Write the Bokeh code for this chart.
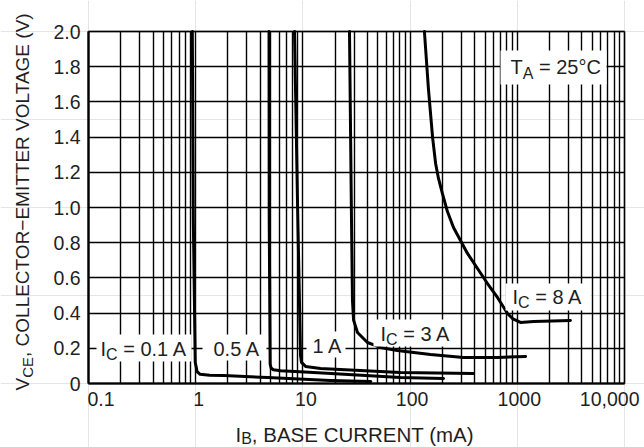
import math
from bokeh.plotting import figure
from bokeh.models import (Label, BoxAnnotation, FixedTicker, Range1d, Grid,
                          LinearAxis, LogAxis)
from bokeh.embed import file_html
from bokeh.resources import INLINE

# ---------------- data ----------------
x_ticks = [0.1, 1, 10, 100, 1000, 10000]
x_tick_labels = ["0.1", "1", "10", "100", "1000", "10,000"]
y_ticks = [0, 0.2, 0.4, 0.6, 0.8, 1.0, 1.2, 1.4, 1.6, 1.8, 2.0]
y_tick_labels = ["0", "0.2", "0.4", "0.6", "0.8", "1.0", "1.2", "1.4", "1.6", "1.8", "2.0"]

# I_B (mA) and V_CE (V) for each collector current
ib_01 = [0.93, 0.95, 0.99, 1.03, 1.10, 1.35, 1.82, 4.7, 18.0, 43.0]
vce_01 = [2.0, 0.93, 0.12, 0.068, 0.052, 0.047, 0.045, 0.034, 0.017, 0.011]

ib_05 = [4.83, 4.85, 4.95, 5.05, 5.3, 6.2, 12.6, 81, 205]
vce_05 = [2.0, 0.93, 0.11, 0.088, 0.078, 0.072, 0.062, 0.034, 0.028]

ib_1 = [8.35, 8.9, 9.5, 9.7, 10.6, 14.6, 81, 390]
vce_1 = [2.0, 1.04, 0.16, 0.12, 0.097, 0.085, 0.0625, 0.057]

ib_3 = [27.2, 28.4, 29.0, 29.7, 32.3, 40, 53, 76, 155, 315, 653, 1195]
vce_3 = [2.0, 0.93, 0.47, 0.36, 0.29, 0.233, 0.205, 0.188, 0.165, 0.148, 0.148, 0.153]

ib_8 = [136, 148, 162, 173, 184, 200, 223, 254, 343, 527, 653, 811, 902, 1070, 1420, 3130]
vce_8 = [2.0, 1.68, 1.40, 1.25, 1.165, 1.08, 0.977, 0.886, 0.739, 0.568, 0.489, 0.398,
         0.369, 0.347, 0.352, 0.358]

curves = [(ib_01, vce_01), (ib_05, vce_05), (ib_1, vce_1), (ib_3, vce_3), (ib_8, vce_8)]

# ---------------- layout / style ----------------
W, H = 644, 447
FL, FT, FW, FH = 88, 31, 536, 352          # chart box left/top/width/height (page px)
FONT = "Liberation Sans"
INK = "#1f1f1f"
X0, X1 = x_ticks[0], x_ticks[-1]
Y0, Y1 = y_ticks[0], y_ticks[-1]
BASE_FIX = 0.33                             # alphabetic-baseline correction (em)

# the plotting frame covers the whole canvas; ranges are widened so that the
# chart box (X0..X1, Y0..Y1) lands at FL..FL+FW, FT..FT+FH
dec_per_px = (math.log10(X1) - math.log10(X0)) / FW
v_per_px = (Y1 - Y0) / FH
x_range = Range1d(10 ** (math.log10(X0) - FL * dec_per_px),
                  10 ** (math.log10(X1) + (W - FL - FW) * dec_per_px))
y_range = Range1d(Y0 - (H - FT - FH) * v_per_px, Y1 + FT * v_per_px)


def sx(px):
    return px


def sy(py):
    return H - py


AW = {" ": 278, "(": 333, ")": 333, ",": 278, ".": 278, "=": 584, "°": 400, "−": 584,
      "A": 667, "B": 667, "C": 722, "E": 667, "G": 778, "I": 278, "L": 556, "M": 833,
      "N": 722, "O": 778, "R": 722, "S": 667, "T": 611, "U": 722, "V": 667, "m": 833}
for d in "0123456789":
    AW[d] = 556


def tw(s, size):
    return sum(AW.get(c, 556) for c in s) * size / 1000.0


p = figure(width=W, height=H, x_axis_type="log", x_range=x_range, y_range=y_range,
           x_axis_location=None, y_axis_location=None,
           output_backend="svg", toolbar_location=None, min_border=0)
p.background_fill_color = "white"
p.border_fill_color = "white"
p.outline_line_color = None

minor = [m * 10.0 ** k for k in range(-1, 4) for m in range(2, 10)]
xticker = FixedTicker(ticks=x_ticks, minor_ticks=minor)
yticker = FixedTicker(ticks=y_ticks)

# axes, placed on the chart box edges
xaxis = LogAxis(fixed_location=Y0, bounds=(X0, X1), ticker=xticker,
                major_label_overrides={t: "" for t in x_ticks})
yaxis = LinearAxis(fixed_location=X0, bounds=(Y0, Y1), ticker=yticker,
                   major_label_overrides=dict(zip(y_ticks, y_tick_labels)))
for ax in (xaxis, yaxis):
    ax.major_tick_out = 0
    ax.major_tick_in = 0
    ax.minor_tick_out = 0
    ax.minor_tick_in = 0
    ax.axis_line_width = 2.2
    ax.axis_line_color = "black"
    ax.major_label_text_font = FONT
    ax.major_label_text_font_size = "19.5px"
    ax.major_label_text_color = INK
yaxis.major_label_standoff = 8
p.add_layout(xaxis, "below")
p.add_layout(yaxis, "left")

GRID_W = 1.4
has_cross = "cross_bounds" in Grid.properties()
if has_cross:
    xg = Grid(dimension=0, ticker=xticker, bounds=(X0, X1), cross_bounds=(Y0, Y1),
              grid_line_color="black", grid_line_width=GRID_W,
              minor_grid_line_color="black", minor_grid_line_width=GRID_W)
    yg = Grid(dimension=1, ticker=yticker, bounds=(Y0, Y1), cross_bounds=(X0, X1),
              grid_line_color="black", grid_line_width=GRID_W)
    p.add_layout(xg, "center")
    p.add_layout(yg, "center")
else:
    vx = x_ticks + minor
    p.segment(x0=vx, y0=[Y0] * len(vx), x1=vx, y1=[Y1] * len(vx),
              line_color="black", line_width=GRID_W, level="underlay")
    p.segment(x0=[X0] * len(y_ticks), y0=y_ticks, x1=[X1] * len(y_ticks), y1=y_ticks,
              line_color="black", line_width=GRID_W, level="underlay")

# chart box border
p.add_layout(BoxAnnotation(left=X0, right=X1, bottom=Y0, top=Y1, fill_alpha=0,
                           fill_color=None, line_color="black", line_width=2,
                           level="underlay"))

# white boxes behind in-plot labels (page px: left, right, top, bottom)
boxes = [(500, 606, 50, 84), (505, 590, 283, 310), (373, 455, 319, 346),
         (306, 345, 331, 357), (202, 266, 334, 360), (96, 191, 334, 361)]
for l, r, t, b in boxes:
    p.add_layout(BoxAnnotation(left=sx(l), right=sx(r), top=sy(t), bottom=sy(b),
                               left_units="screen", right_units="screen",
                               top_units="screen", bottom_units="screen",
                               fill_color="white", fill_alpha=1.0, line_color=None,
                               level="glyph"))

for ib, v in curves:
    p.line(ib, v, line_color="black", line_width=3, line_join="round", line_cap="round")


def rich(pieces, px, py, vertical=False):
    """pieces: (text, font size, baseline shift in px); (px, py) = start of baseline."""
    pos = 0.0
    for text, size, dy in pieces:
        lead = len(text) - len(text.lstrip(" "))
        pos += tw(" " * lead, size)
        t = text.strip(" ")
        fix = BASE_FIX * size
        if vertical:
            lab = Label(x=sx(px + dy - fix), y=sy(py - pos), angle=math.pi / 2)
        else:
            lab = Label(x=sx(px + pos), y=sy(py + dy - fix))
        lab.update(x_units="screen", y_units="screen", text=t, text_font=FONT,
                   text_font_size=f"{size}px", text_color=INK,
                   text_align="left", text_baseline="alphabetic")
        p.add_layout(lab)
        pos += tw(t, size)


# curve / condition labels
rich([("T", 20, 0), ("A", 16, 5), (" = 25°C", 20, 0)], 510, 73)
rich([("I", 20, 0), ("C", 16, 4), (" = 8 A", 20, 0)], 512, 303)
rich([("I", 20, 0), ("C", 16, 4), (" = 3 A", 20, 0)], 380, 340)
rich([("1 A", 20, 0)], 312, 352)
rich([("0.5 A", 20, 0)], 213, 355)
rich([("I", 20, 0), ("C", 16, 4), (" = 0.1 A", 20, 0)], 100, 355)

# axis titles
rich([("I", 20.5, 0), ("B", 16, 2.5), (", BASE CURRENT (mA)", 20.5, 0)], 235, 440.5)
rich([("V", 19, 0), ("CE", 15, 4), (", COLLECTOR−EMITTER VOLTAGE (V)", 19, 0)],
     28, 390, vertical=True)

# x tick labels (end labels kept inside the picture, as in the reference)
TICK_SIZE = 19.5
x_align = ["left", "center", "center", "center", "center", "right"]
x_dx = [-1, 3, 3, 2, 2, 15]
for xv, txt, al, dx in zip(x_ticks, x_tick_labels, x_align, x_dx):
    p.add_layout(Label(x=xv, y=sy(405 - BASE_FIX * TICK_SIZE), x_units="data",
                       y_units="screen", x_offset=dx,
                       text=txt, text_font=FONT, text_font_size=f"{TICK_SIZE}px",
                       text_color=INK, text_align=al, text_baseline="alphabetic"))

open("out.html", "w").write(file_html(p, INLINE))
